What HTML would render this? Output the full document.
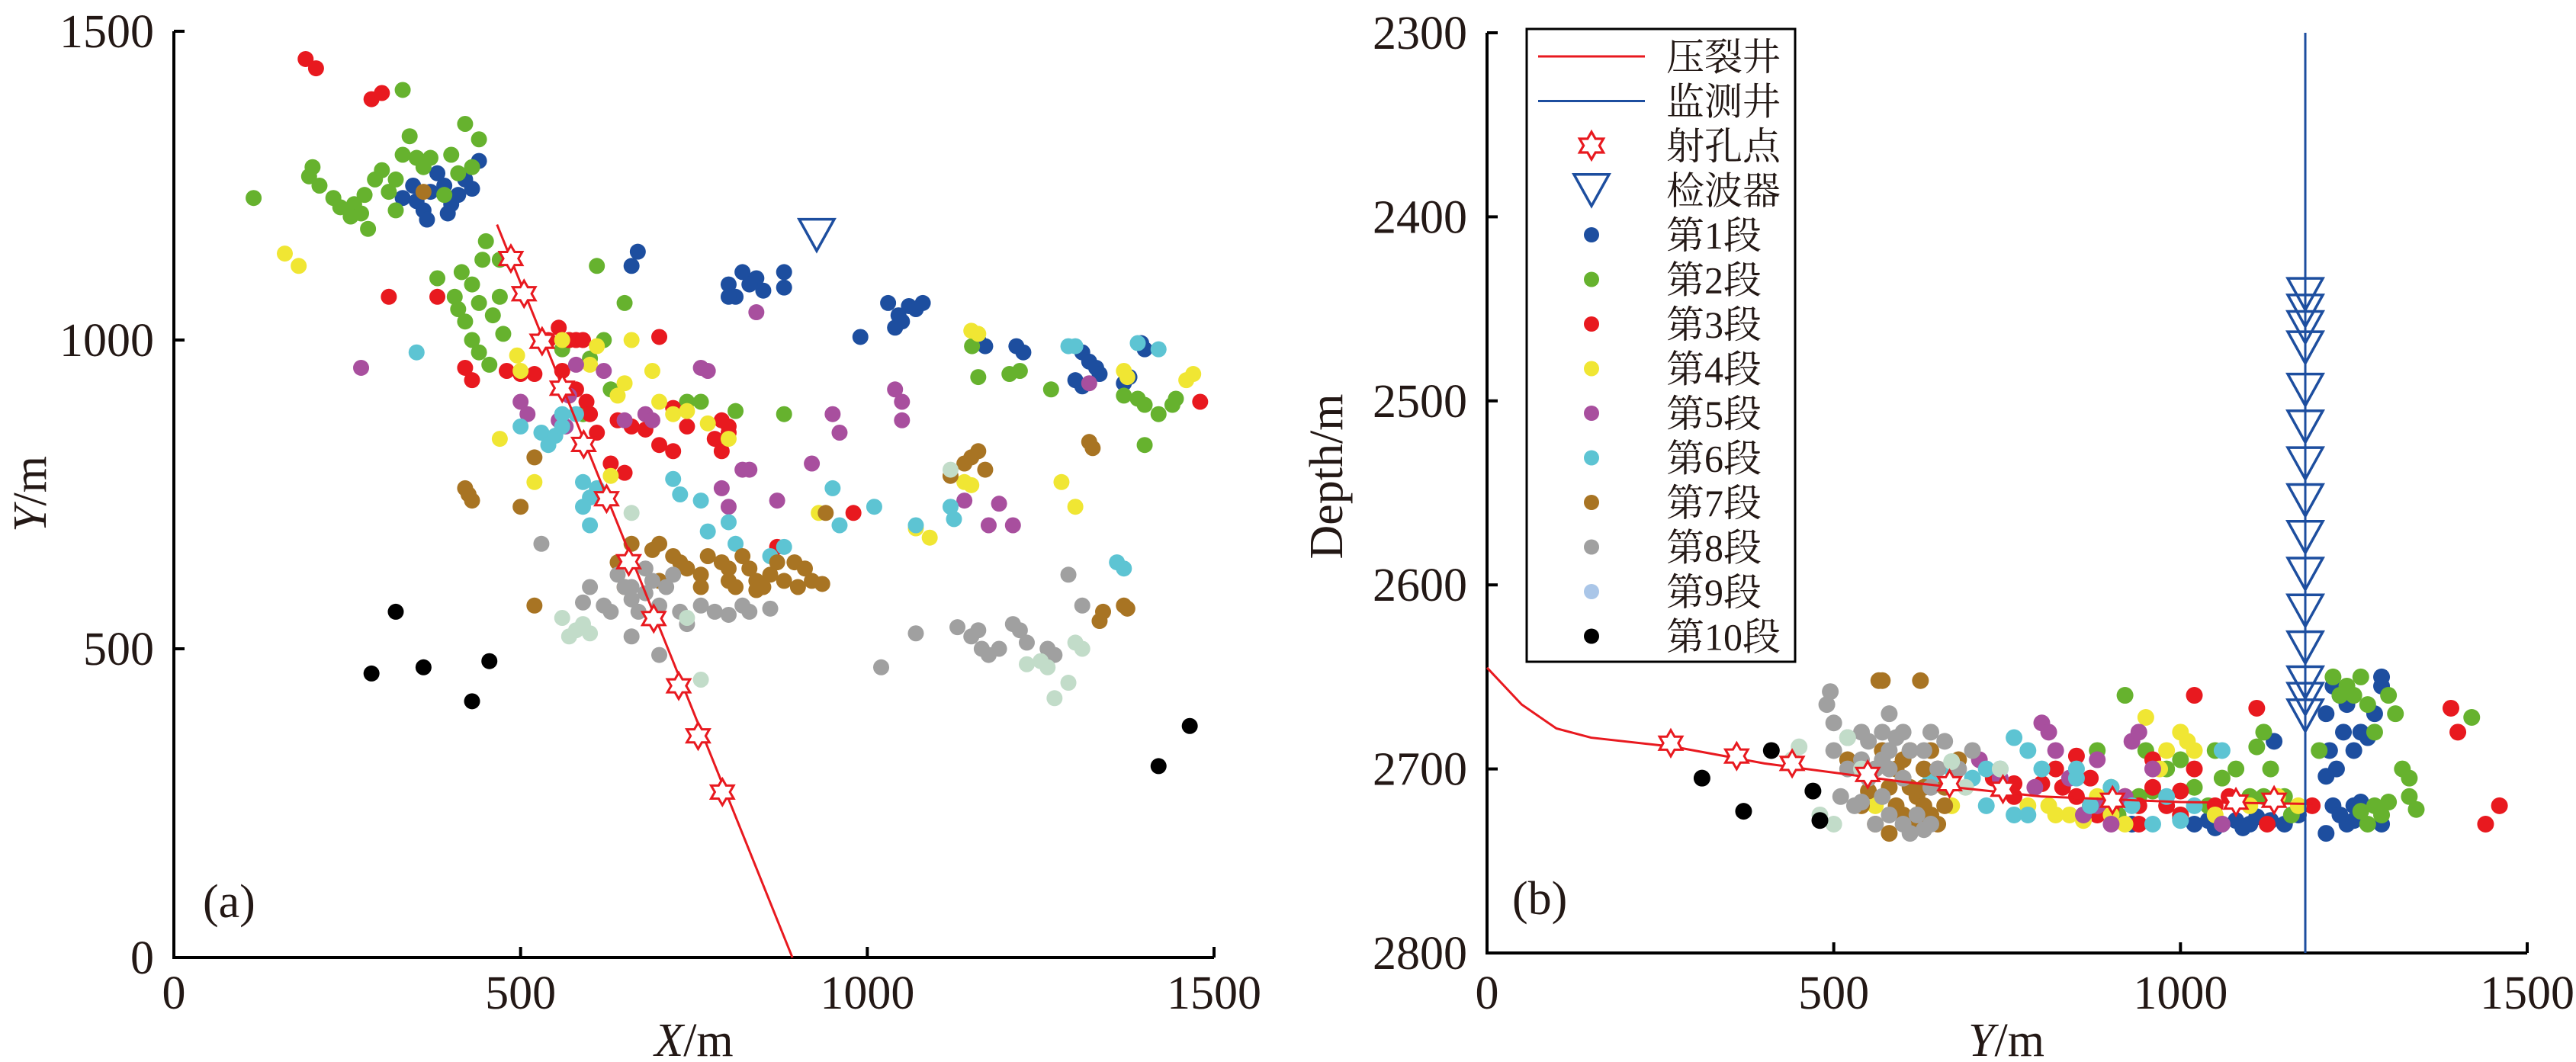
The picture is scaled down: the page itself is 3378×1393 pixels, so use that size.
<!DOCTYPE html>
<html><head><meta charset="utf-8"><style>
html,body{margin:0;padding:0;background:#fff;}
svg{display:block;}
text{font-family:"Liberation Serif","Noto Serif CJK SC",serif;fill:#231815;}
</style></head><body>
<svg id="fig" width="3378" height="1393" viewBox="0 0 3378 1393" xmlns="http://www.w3.org/2000/svg">
<defs>
<symbol id="star" viewBox="-20 -20 40 40" overflow="visible"><path d="M0,-18 L5.2,-9 L15.6,-9 L10.4,0 L15.6,9 L5.2,9 L0,18 L-5.2,9 L-15.6,9 L-10.4,0 L-15.6,-9 L-5.2,-9 Z" fill="#fff" stroke="#e8191f" stroke-width="3.2"/></symbol>
</defs>
<g id="pa"></g>
<g id="pb"></g>
</svg>
<script>
const segColors=['#1d4e9f','#66b22e','#e8191f','#f0e633','#a84f9e','#5dc4d3','#a87423','#a0a0a0','#c2dcc9','#000000'];
const segLabels=['第1段','第2段','第3段','第4段','第5段','第6段','第7段','第8段','第9段','第10段'];
// Panel (a): X, Y pairs per segment
const a1=[[330,1230],[350,1225],[370,1240],[390,1250],[400,1220],[360,1210],[420,1260],[440,1290],[380,1270],[345,1250],[410,1235],[365,1195],[395,1205],[430,1245],[669,1143],[660,1120],[800,1090],[820,1110],[840,1100],[850,1080],[830,1090],[810,1070],[880,1110],[880,1085],[800,1070],[1030,1060],[1045,1040],[1060,1055],[1070,1050],[1040,1020],[1050,1030],[1080,1060],[990,1005],[1160,1000],[1170,990],[1215,990],[1225,980],[1310,980],[1320,965],[1330,955],[1335,945],[1300,935],[1310,925],[1378,940],[1370,930],[1395,995],[1400,985]];
const a2=[[115,1230],[195,1265],[200,1280],[210,1250],[230,1230],[240,1215],[260,1220],[270,1205],[280,1180],[290,1260],[300,1275],[310,1240],[320,1260],[330,1300],[340,1330],[350,1295],[360,1280],[370,1295],[400,1300],[420,1350],[440,1325],[430,1280],[410,1270],[275,1235],[255,1200],[320,1210],[390,1235],[330,1405],[450,1160],[445,1130],[415,1110],[430,1090],[405,1070],[410,1050],[420,1030],[440,1060],[470,1070],[460,1040],[475,1010],[430,1000],[440,980],[455,960],[470,1130],[380,1100],[610,1120],[650,1060],[740,900],[760,900],[810,885],[880,880],[620,1000],[600,970],[590,880],[630,920],[1151,990],[1160,940],[1205,945],[1220,950],[1265,920],[1370,910],[1390,905],[1400,895],[1420,880],[1440,895],[1445,905],[1400,830],[570,1000],[560,985]];
const a3=[[190,1455],[205,1440],[285,1390],[300,1400],[310,1070],[380,1070],[420,955],[430,935],[480,950],[500,945],[520,945],[540,1000],[555,1020],[570,1000],[580,1000],[590,1000],[560,950],[580,920],[595,900],[610,850],[640,870],[660,860],[680,855],[700,830],[720,820],[720,890],[740,860],[790,870],[800,860],[780,840],[790,820],[800,850],[700,1005],[870,665],[980,720],[1480,900],[650,785],[600,880],[630,800]];
const a4=[[160,1140],[180,1120],[495,975],[500,950],[560,1000],[600,960],[610,990],[660,1000],[690,950],[700,900],[720,880],[740,885],[770,865],[800,840],[650,930],[640,910],[630,780],[520,770],[470,840],[930,720],[1070,695],[1090,680],[1150,1015],[1160,1010],[1140,770],[1150,765],[1280,770],[1300,730],[1370,950],[1375,940],[1470,945],[1460,935]];
const a5=[[270,955],[500,900],[510,880],[555,870],[565,860],[570,910],[580,960],[620,950],[760,955],[770,950],[840,1045],[950,880],[960,850],[920,800],[870,740],[830,790],[820,790],[790,760],[800,730],[1040,920],[1050,900],[1050,870],[1140,740],[1175,700],[1190,735],[1210,700],[1320,930],[650,870],[680,880],[690,870]];
const a6=[[350,980],[500,860],[530,850],[550,845],[560,860],[540,830],[580,880],[590,770],[600,745],[610,760],[590,730],[600,700],[720,775],[730,750],[760,740],[770,690],[800,705],[810,670],[860,650],[880,665],[960,700],[950,760],[1010,730],[1070,700],[1120,730],[1125,710],[1290,990],[1300,990],[1390,995],[1420,985],[1360,640],[1370,630],[560,880]];
const a7=[[420,760],[425,750],[430,740],[500,730],[520,810],[520,570],[660,670],[690,660],[700,670],[640,640],[650,600],[720,650],[730,640],[740,630],[760,620],[770,650],[790,640],[800,610],[810,600],[820,650],[830,630],[840,610],[850,600],[860,620],[880,610],[900,600],[920,610],[935,605],[700,610],[760,600],[800,630],[840,595],[870,640],[895,640],[910,630],[1120,780],[1140,800],[1150,810],[1160,820],[1170,790],[1320,835],[1325,825],[1370,570],[1375,565],[1340,560],[1335,545],[940,720],[360,1240]];
const a8=[[530,670],[590,575],[640,620],[650,600],[660,580],[670,560],[680,590],[690,610],[700,570],[710,600],[720,620],[730,560],[740,540],[760,570],[780,560],[800,555],[820,570],[830,560],[860,565],[620,570],[630,560],[660,520],[700,490],[1020,470],[1070,525],[1130,535],[1150,520],[1160,530],[1165,500],[1175,490],[1190,500],[1210,540],[1220,530],[1230,510],[1260,500],[1270,490],[1290,620],[1310,570],[660,600],[680,630],[600,600]];
const a9=[[560,550],[570,520],[580,530],[590,540],[600,525],[760,450],[740,550],[1270,420],[1290,445],[1300,510],[1310,500],[1230,475],[1250,480],[1260,470],[1120,790],[660,720]];
const a10=[[285,460],[320,560],[360,470],[430,415],[455,480],[1420,310],[1465,375]];
const aSegs=[a1,a2,a3,a4,a5,a6,a7,a8,a9,a10];
const aWell=[[466,1187],[892,0]];
const aStars=[[486,1132],[505,1075],[531,998],[560,922],[591,831],[624,743],[656,641],[692,549],[728,440],[756,359],[791,268]];
const aRecv=[[927,1170]];
// Panel (b): Y (horizontal), Depth pairs
const b1=[[1210,2670],[1220,2655],[1230,2660],[1240,2665],[1250,2690],[1260,2680],[1270,2683],[1280,2670],[1290,2655],[1215,2690],[1225,2700],[1235,2680],[1220,2720],[1230,2725],[1240,2730],[1250,2720],[1260,2718],[1290,2730],[1210,2735],[1250,2728],[1020,2730],[1040,2728],[1060,2730],[1080,2728],[1100,2730],[1110,2726],[1130,2728],[1150,2730],[1000,2727],[1050,2732],[1090,2732],[1170,2725],[930,2730],[1135,2685],[1210,2704],[1290,2650]];
const b2=[[920,2660],[940,2715],[960,2712],[980,2700],[1000,2695],[1020,2710],[1050,2690],[1060,2705],[1080,2700],[1100,2715],[1110,2688],[1120,2680],[1130,2700],[1150,2715],[1160,2725],[1000,2725],[870,2720],[880,2690],[900,2710],[910,2725],[1200,2690],[1220,2650],[1240,2655],[1250,2660],[1260,2650],[1270,2665],[1280,2680],[1300,2660],[1320,2700],[1330,2705],[1340,2722],[1310,2670],[1260,2723],[1280,2720],[1290,2725],[1300,2718],[1270,2730],[1230,2660],[1330,2715],[950,2690],[1040,2720],[1120,2715],[1420,2672]];
const b3=[[730,2705],[760,2708],[800,2708],[820,2700],[830,2710],[850,2715],[870,2720],[880,2725],[900,2722],[920,2715],[940,2720],[960,2710],[980,2720],[1000,2725],[1020,2660],[1050,2720],[1070,2715],[1110,2667],[1125,2730],[1190,2720],[1390,2667],[1400,2680],[1440,2730],[1460,2720],[960,2695],[1020,2700],[850,2693],[870,2705],[940,2730],[1000,2712],[760,2715],[670,2708]];
const b4=[[560,2720],[670,2720],[780,2720],[810,2720],[820,2725],[840,2725],[900,2725],[920,2730],[950,2672],[980,2690],[1000,2680],[1010,2685],[1020,2690],[1100,2720],[1140,2715],[1170,2720],[620,2725],[860,2728],[880,2715],[970,2700],[1050,2725]];
const b5=[[800,2675],[810,2680],[820,2690],[840,2705],[860,2725],[880,2720],[900,2730],[920,2715],[930,2685],[940,2680],[960,2700],[740,2705],[880,2695],[1060,2730],[790,2710],[710,2695]];
const b6=[[670,2700],[700,2705],[720,2720],[740,2700],[760,2725],[780,2725],[800,2700],[850,2705],[870,2720],[900,2710],[930,2720],[960,2730],[980,2715],[1000,2728],[1020,2720],[1060,2690],[760,2683],[850,2700],[720,2700],[780,2690],[640,2705]];
const b7=[[565,2652],[570,2652],[625,2652],[570,2690],[590,2700],[600,2705],[610,2710],[620,2715],[630,2720],[640,2725],[650,2730],[580,2710],[600,2695],[610,2690],[630,2700],[650,2700],[660,2710],[620,2730],[590,2720],[600,2725],[550,2712],[540,2720],[560,2730],[580,2735],[680,2695],[640,2690],[520,2695],[630,2710],[660,2720],[560,2700]];
const b8=[[495,2658],[490,2665],[500,2675],[520,2683],[500,2690],[540,2695],[550,2705],[560,2700],[570,2715],[580,2725],[600,2730],[610,2735],[620,2725],[640,2710],[650,2700],[630,2690],[580,2690],[570,2680],[590,2683],[640,2680],[580,2670],[600,2705],[540,2718],[560,2730],[630,2733],[610,2690],[660,2685],[520,2700],[580,2700],[550,2685],[540,2680],[600,2680],[640,2730],[680,2700],[700,2690],[570,2695],[510,2715],[530,2720]];
const b9=[[450,2688],[440,2695],[480,2725],[500,2730],[520,2683],[540,2700],[670,2696],[690,2710],[740,2700]];
const b10=[[310,2705],[370,2723],[410,2690],[470,2712],[480,2728]];
const bSegs=[b1,b2,b3,b4,b5,b6,b7,b8,b9,b10];
const bWell=[[0,2645],[50,2665],[100,2678],[150,2683],[270,2688],[400,2697],[600,2707],[800,2715],[1000,2718],[1190,2719]];
const bStars=[[265,2686],[360,2693],[440,2697],[549,2703],[667,2708],[744,2711],[902,2717],[1080,2718],[1135,2717]];
const bMonitorY=[1180];
const bRecv=[2442,2451,2460,2471,2494,2514,2534,2554,2574,2594,2614,2634,2653,2662,2671];
const ticksA=[0,500,1000,1500];
const ticksBy=[2300,2400,2500,2600,2700,2800];

const NS='http://www.w3.org/2000/svg';
function mk(parent,tag,attrs,text){const e=document.createElementNS(NS,tag);for(const k in attrs)e.setAttribute(k,attrs[k]);if(text!==undefined)e.textContent=text;parent.appendChild(e);return e;}

const ax=v=>228+v*(1364/1500), ay=v=>1256-v*(1215/1500);
const bx=v=>1950+v*(1364/1500), by=v=>43+(v-2300)*(1207/500);

function axes(g,fx,fy,xt,yt,x0,x1,y0,y1){
  const ln=mk(g,'path',{d:`M${fx(x0)},${fy(y1)} L${fx(x0)},${fy(y0)} L${fx(x1)},${fy(y0)}`,fill:'none',stroke:'#000','stroke-width':4});
  
  
  xt.forEach(t=>{const X=fx(t);
    const tk=mk(g,'line',{x1:X,y1:fy(y0),x2:X,y2:fy(y0)-14,stroke:'#000','stroke-width':4});
    
    
    const tl=mk(g,'text',{x:X,y:1323,'font-size':62,'text-anchor':'middle'},String(t));
    
    });
  yt.forEach(t=>{const Y=fy(t);
    const tk=mk(g,'line',{x1:fx(x0),y1:Y,x2:fx(x0)+14,y2:Y,stroke:'#000','stroke-width':4});
    
    
    const tl=mk(g,'text',{x:fx(x0)-26,y:Y+21,'font-size':62,'text-anchor':'end'},String(t));
    
    });
}
function dots(g,segs,fx,fy,r){
  segs.forEach((s,i)=>s.forEach(p=>{const c=mk(g,'circle',{cx:fx(p[0]),cy:fy(p[1]),r:r,fill:segColors[i]});
    
    }));
}
function star(g,x,y,s){const u=mk(g,'use',{href:'#star',x:x-s/2,y:y-s/2,width:s,height:s});
  
  }
function tri(g,x,y,w,sw){const h=w*0.9;const t=mk(g,'path',{d:`M${x-w/2},${y-h/2} L${x+w/2},${y-h/2} L${x},${y+h/2} Z`,fill:'none',stroke:'#1d4e9f','stroke-width':sw});
  
  }

const A=document.getElementById('pa');
axes(A,ax,ay,ticksA,ticksA,0,1500,0,1500);
dots(A,aSegs,ax,ay,10.5);
const wa=mk(A,'line',{x1:ax(aWell[0][0]),y1:ay(aWell[0][1]),x2:ax(aWell[1][0]),y2:ay(aWell[1][1]),stroke:'#e8191f','stroke-width':3});


aStars.forEach(p=>star(A,ax(p[0]),ay(p[1]),38));
aRecv.forEach(p=>tri(A,ax(p[0]),ay(p[1]),46,3.5));
let t=mk(A,'text',{x:266,y:1203,'font-size':62},'(a)');
t=mk(A,'text',{x:910,y:1385,'font-size':62,'text-anchor':'middle'});t.innerHTML='<tspan font-style="italic">X</tspan>/m';
t=mk(A,'text',{x:0,y:0,'font-size':62,'text-anchor':'middle',transform:'translate(60,648) rotate(-90)'});t.innerHTML='<tspan font-style="italic">Y</tspan>/m';

const B=document.getElementById('pb');
axes(B,bx,by,ticksA,ticksBy,0,1500,2800,2300);
dots(B,bSegs,bx,by,11);
const wb=mk(B,'polyline',{points:bWell.map(p=>bx(p[0])+','+by(p[1])).join(' '),fill:'none',stroke:'#e8191f','stroke-width':3});


bStars.forEach(p=>star(B,bx(p[0]),by(p[1]),38));
const mw=mk(B,'line',{x1:bx(bMonitorY[0]),y1:by(2300),x2:bx(bMonitorY[0]),y2:by(2800),stroke:'#1d4e9f','stroke-width':3});


bRecv.forEach(d=>tri(B,bx(bMonitorY[0]),by(d),46,3.5));
t=mk(B,'text',{x:1983,y:1199,'font-size':62},'(b)');
t=mk(B,'text',{x:2631,y:1385,'font-size':62,'text-anchor':'middle'});t.innerHTML='<tspan font-style="italic">Y</tspan>/m';
t=mk(B,'text',{x:0,y:0,'font-size':62,'text-anchor':'middle',transform:'translate(1760,625) rotate(-90)'},'Depth/m');

const L=mk(B,'g',{});


mk(L,'rect',{x:2002,y:38,width:352,height:830,fill:'#fff',stroke:'#000','stroke-width':3});
const ly=i=>74+i*58.5;
const lx=2087, tx=2185;
function lt(i,s){const e=mk(L,'text',{x:tx,y:ly(i)+18,'font-size':50,'font-family':'"Liberation Serif","Noto Serif CJK SC",serif'},s);}
let e=mk(L,'line',{x1:2017,y1:ly(0),x2:2157,y2:ly(0),stroke:'#e8191f','stroke-width':3});lt(0,'压裂井');
e=mk(L,'line',{x1:2017,y1:ly(1),x2:2157,y2:ly(1),stroke:'#1d4e9f','stroke-width':3});lt(1,'监测井');
star(L,lx,ly(2),40);lt(2,'射孔点');
tri(L,lx,ly(3),46,3.5);lt(3,'检波器');
segLabels.forEach((s,i)=>{const c=mk(L,'circle',{cx:lx,cy:ly(4+i),r:10,fill:i===8?'#aac6e8':segColors[i]});
  
  
  lt(4+i,s);});
</script>
</body></html>
